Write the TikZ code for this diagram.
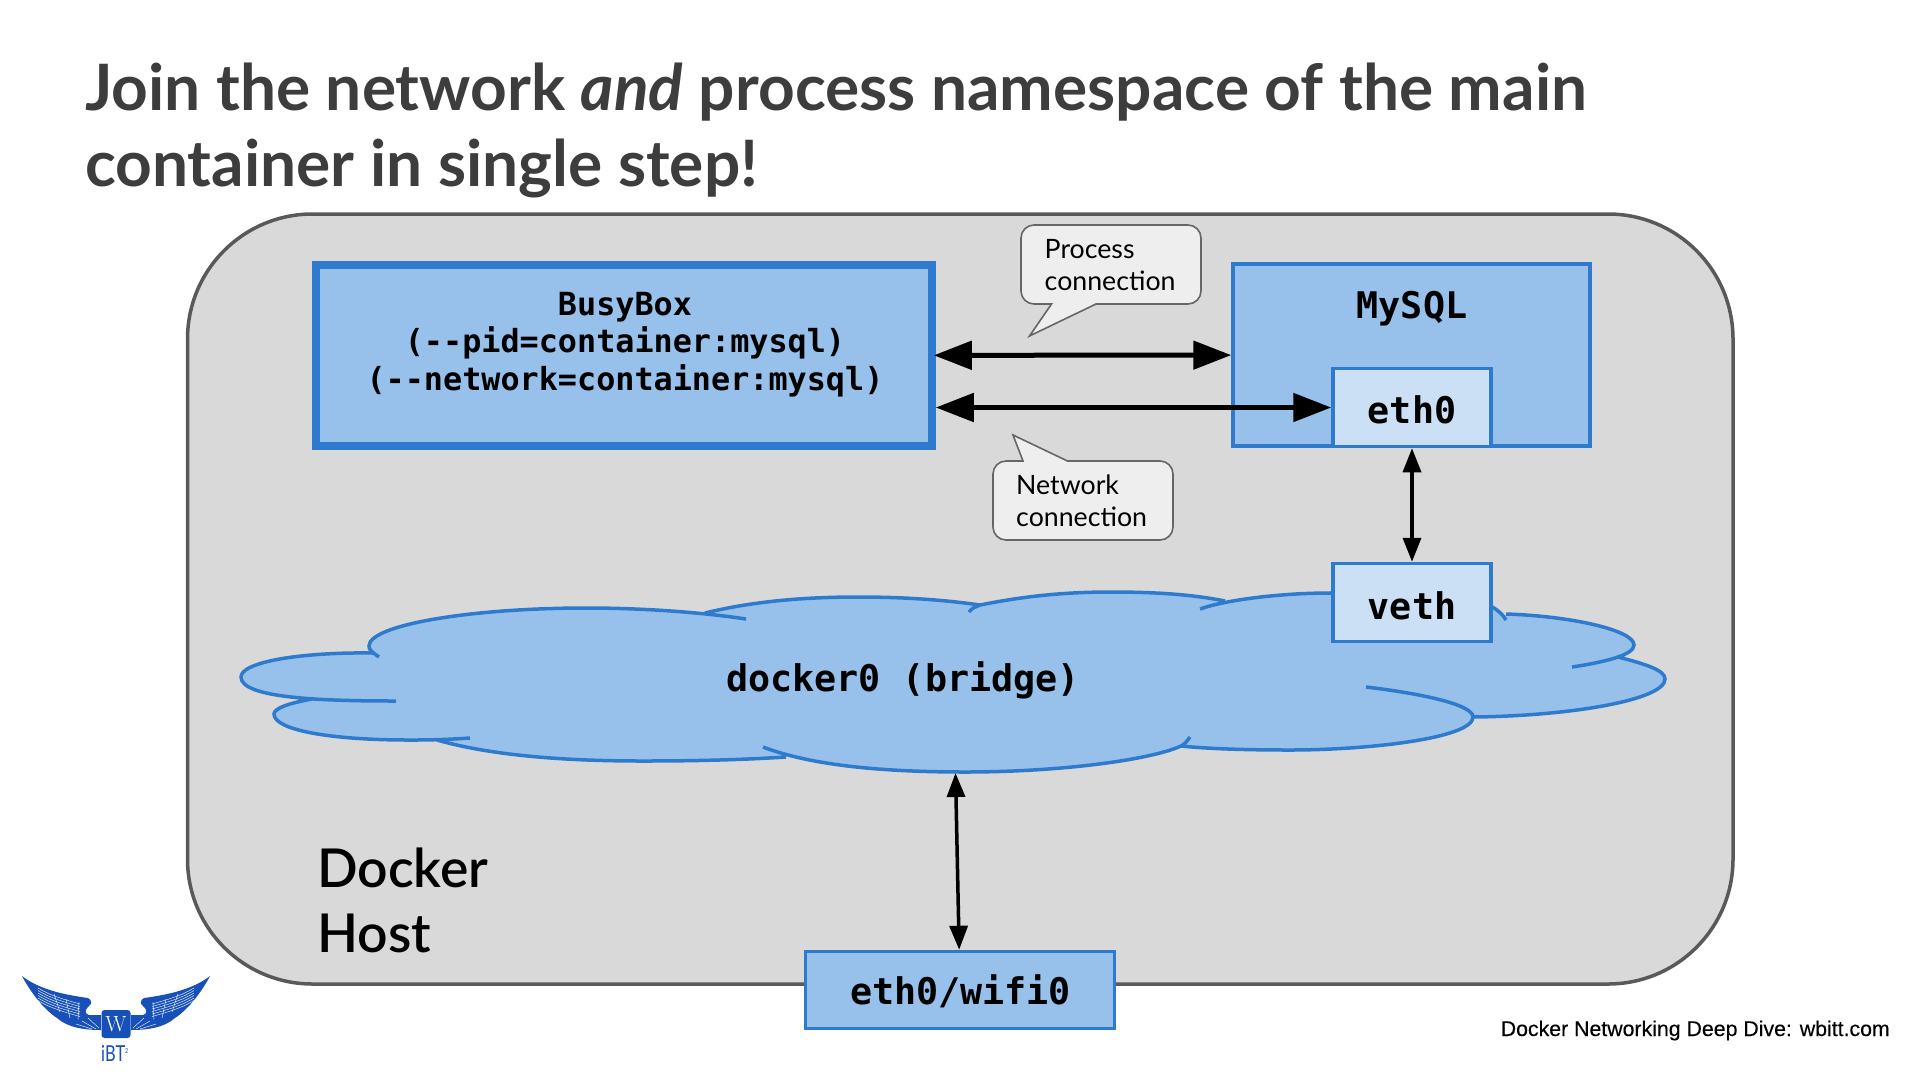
\documentclass[tikz,border=0pt]{standalone}
\usepackage{fontspec}
\usetikzlibrary{arrows.meta}
\newfontfamily\latofont{Lato}
\newfontfamily\hostfont{Lato Semibold}
\newfontfamily\logofont{Lato}[FakeStretch=0.75]
\newfontfamily\monofont{DejaVu Sans Mono}[BoldFont={DejaVu Sans Mono Bold}]
\newfontfamily\footfont{Liberation Sans}[FakeBold=0.2]
\definecolor{hostfill}{HTML}{D9D9D9}
\definecolor{hostline}{HTML}{595959}
\definecolor{boxfill}{HTML}{97C0EB}
\definecolor{boxline}{HTML}{2E7BCD}
\definecolor{portfill}{HTML}{CBDFF5}
\definecolor{titlegray}{HTML}{3D3D3D}
\definecolor{balloonfill}{HTML}{EEEEEE}
\definecolor{balloonline}{HTML}{666666}
\definecolor{logoblue}{HTML}{1650B8}
% the lobes of the cloud, #1 joins them
\newcommand{\cloudlobes}[1]{
(396,701) .. controls (320,701) and (241,698) .. (241,677) .. controls (241,662) and (300,652) .. (373,653) #1
(379,657) .. controls (372,652) and (369,650) .. (369,646) .. controls (369,625) and (470,608) .. (587,608) .. controls (640,608) and (700,612) .. (746,619) #1
(705,613) .. controls (750,602) and (800,597) .. (858,597) .. controls (905,597) and (945,600) .. (980,605) #1
(969,612) .. controls (972,608) and (975,607) .. (980,605) .. controls (1020,597) and (1060,592) .. (1111,592) .. controls (1160,592) and (1195,595) .. (1225,601) #1
(1200,609) .. controls (1225,600) and (1280,593) .. (1330,593) .. controls (1420,590) and (1470,592) .. (1494,608) .. controls (1500,612) and (1503,615) .. (1506,620) #1
(1506,614) .. controls (1570,616) and (1634,630) .. (1634,645) .. controls (1634,655) and (1605,662) .. (1572,667) #1
(1618,657) .. controls (1645,664) and (1665,670) .. (1665,679) .. controls (1665,700) and (1570,716) .. (1473,717) #1
(1366,687) .. controls (1425,694) and (1473,705) .. (1473,717) .. controls (1473,738) and (1370,750) .. (1290,750) .. controls (1250,750) and (1210,749) .. (1181,746) #1
(1190,737) .. controls (1187,741) and (1185,744) .. (1181,746) .. controls (1150,760) and (1060,772) .. (965,772) .. controls (880,772) and (810,765) .. (763,747) #1
(786,757) .. controls (740,760) and (690,761) .. (643,761) .. controls (560,761) and (490,755) .. (437,740) #1
(470,738) .. controls (440,740) and (425,740) .. (409,740) .. controls (330,740) and (274,730) .. (274,714) .. controls (274,708) and (290,703) .. (312,699)
}
\begin{document}
\begin{tikzpicture}
[x=1pt,y=-1pt,
  hostdecorate/.style={draw=hostline,fill=hostfill,line width=3.5pt,rounded corners=125pt},
  clouddecorate/.style={draw=boxline,line width=3.5pt},
  boxdecorate/.style={shape=rectangle,draw=boxline,fill=boxfill,line width=3.5pt},
  portdecorate/.style={shape=rectangle,draw=boxline,fill=portfill,line width=3.5pt},
  monotext/.style={font=\monofont\bfseries\fontsize{36.7}{40}\selectfont,anchor=base},
  balloondecorate/.style={draw=balloonline,fill=balloonfill,line width=1.6pt},
  balloontext/.style={font=\latofont\fontsize{26.7}{32}\selectfont,align=left,anchor=west,inner sep=0pt},
  titletext/.style={anchor=base west,inner sep=0pt,text=titlegray,font=\latofont\bfseries\fontsize{64}{76}\selectfont},
  hosttext/.style={anchor=base west,inner sep=0pt,font=\hostfont\fontsize{53.5}{65}\selectfont},
  linedecorate/.style={{Triangle[length=38pt,width=28pt]}-{Triangle[length=38pt,width=28pt]},line width=5pt},
  thinlinedecorate/.style={{Triangle[length=24pt,width=18pt]}-{Triangle[length=24pt,width=18pt]},line width=3.5pt}]
\useasboundingbox (0,0) rectangle (1920,1080);
\fill[white] (0,0) rectangle (1920,1080);
% title
\node (title) at (85,110) [titletext] {Join the network \textit{and} process namespace of the main};
\node (titleb) at (85,186) [titletext] {container in single step!};
% docker host
\draw[hostdecorate] (187.5,214) rectangle (1733,984);
\node (dockera) at (317,887) [hosttext] {Docker};
\node (dockerb) at (317,952) [hosttext] {Host};
% cloud
\fill[boxfill] \cloudlobes{--} -- cycle;
\draw[clouddecorate] \cloudlobes{};
\node (bridge) at (903,691) [monotext] {docker0 (bridge)};
\coordinate (bridgeport) at (955.5,773);
% nodes or vertices
\node (busybox) at (624,355.5) [boxdecorate,line width=8pt,minimum width=615.5pt,minimum height=181pt] {};
\node (busyboxtext) at (625,344.5) [font=\monofont\bfseries\fontsize{31.8}{37.5}\selectfont,align=center] {BusyBox\\(-{}-pid=container:mysql)\\(-{}-network=container:mysql)};
\node (mysql) at (1411.5,355) [boxdecorate,minimum width=357pt,minimum height=182pt] {};
\node (mysqltext) at (1412,318) [monotext] {MySQL};
\node (eth) at (1412,407.5) [portdecorate,minimum width=158pt,minimum height=78pt] {};
\node (ethtext) at (1412,423) [monotext] {eth0};
\node (veth) at (1412,602.5) [portdecorate,minimum width=158pt,minimum height=78pt] {};
\node (vethtext) at (1412,619) [monotext] {veth};
\node (wifi) at (960,990) [boxdecorate,minimum width=309pt,minimum height=77pt] {};
\node (wifitext) at (960.5,1004.5) [monotext] {eth0/wifi0};
% balloons
\draw[balloondecorate,rounded corners=13pt] (1021,225) -- (1201,225) -- (1201,304)
  [sharp corners] -- (1096,304) -- (1029.5,336) -- (1051.5,304) [rounded corners=13pt] -- (1021,304) -- cycle;
\node (process) at (1044.5,265) [balloontext] {Process\\connection};
\draw[balloondecorate,rounded corners=13pt] (1173,461) -- (1173,540) -- (993,540) -- (993,461)
  [sharp corners] -- (1023,461) -- (1013,435) -- (1067.5,461) [rounded corners=13pt] -- cycle;
\node (network) at (1016,501) [balloontext] {Network\\connection};
% edges or lines
\path
(busybox) edge[linedecorate,shorten <=-2pt] node {} (mysql)
(busybox.east |- eth.west) edge[linedecorate] node {} (eth.west)
(eth) edge[thinlinedecorate] node {} (veth)
(bridgeport) edge[thinlinedecorate] node {} (wifi);
% logo
\foreach \wingside in {1,-1} {
\begin{scope}[shift={(116,0)},xscale=\wingside]
\fill[logoblue] (-94,976) .. controls (-76,990) and (-50,995) .. (-28,998)
  .. controls (-24,1000) and (-24,1004) .. (-27,1006) .. controls (-32,1010) and (-31,1014) .. (-27,1015)
  -- (-15,1015) -- (-15,1030) .. controls (-30,1030) and (-48,1028) .. (-59,1018)
  .. controls (-70,1011) and (-84,995) .. cycle;
\foreach \feather in {3,5.5,8,10.5,13,15.5}
  \draw[white,line width=.4pt] (-78,985+\feather) .. controls (-65,993+\feather) and (-50,997+\feather) .. (-36,1001+\feather);
\draw[white,line width=.4pt] (-50,999) -- (-46,1018) (-37,1002) -- (-38,1020) (-62,994) -- (-56,1012)
  (-17,1028) -- (-28,1018) (-20,1029) -- (-34,1021) (-24,1029) -- (-40,1024);
\end{scope}
}
\node (logobox) at (116,1024) [shape=rectangle,fill=logoblue,rounded corners=3pt,minimum width=29pt,minimum height=28pt,inner sep=0pt] {};
\node (logow) at (116,1024) [text=white,inner sep=0pt,font=\rmfamily\fontsize{22}{22}\selectfont] {W};
\node (logotext) at (115,1061) [anchor=base,inner sep=0pt,text=logoblue,font=\logofont\fontsize{22}{22}\selectfont] {iBT\textsuperscript{\fontsize{7}{7}\selectfont 2}};
% footer
\node (footer) at (1890,1036) [anchor=base east,inner sep=0pt,font=\footfont\fontsize{21.3}{21}\selectfont] {Docker Networking Deep Dive: wbitt.com};
\end{tikzpicture}
\end{document}
